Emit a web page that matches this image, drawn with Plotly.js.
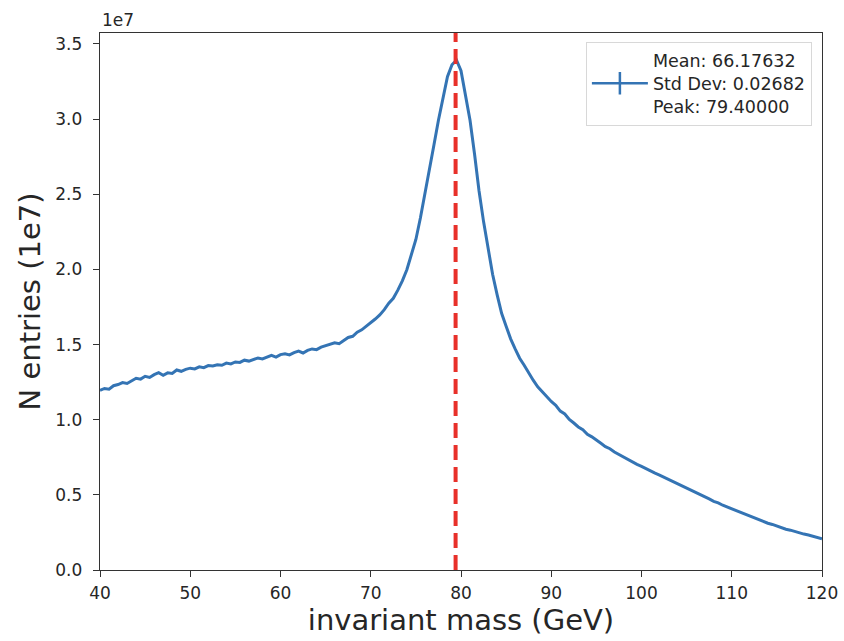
<!DOCTYPE html>
<html>
<head>
<meta charset="utf-8">
<script src="https://cdn.plot.ly/plotly-3.0.1.min.js"></script>
<style>html,body{margin:0;padding:0;background:#fff;}#chart{width:844px;height:641px;}</style>
</head>
<body>
<div id="chart"></div>
<script>
// invariant mass bin centres (GeV)
const mass = [
 40.0,40.5,41.0,41.5,42.0,42.5,43.0,43.5,44.0,44.5,45.0,45.5,46.0,46.5,47.0,47.5,48.0,48.5,49.0,49.5,
 50.0,50.5,51.0,51.5,52.0,52.5,53.0,53.5,54.0,54.5,55.0,55.5,56.0,56.5,57.0,57.5,58.0,58.5,59.0,59.5,
 60.0,60.5,61.0,61.5,62.0,62.5,63.0,63.5,64.0,64.5,65.0,65.5,66.0,66.5,67.0,67.5,68.0,68.5,69.0,69.5,
 70.0,70.5,71.0,71.5,72.0,72.5,73.0,73.5,74.0,74.5,75.0,75.5,76.0,76.5,77.0,77.5,78.0,78.5,79.0,79.5,
 80.0,80.5,81.0,81.5,82.0,82.5,83.0,83.5,84.0,84.5,85.0,85.5,86.0,86.5,87.0,87.5,88.0,88.5,89.0,89.5,
 90.0,90.5,91.0,91.5,92.0,92.5,93.0,93.5,94.0,94.5,95.0,95.5,96.0,96.5,97.0,97.5,98.0,98.5,99.0,99.5,
 100.0,100.5,101.0,101.5,102.0,102.5,103.0,103.5,104.0,104.5,105.0,105.5,106.0,106.5,107.0,107.5,108.0,108.5,109.0,109.5,
 110.0,110.5,111.0,111.5,112.0,112.5,113.0,113.5,114.0,114.5,115.0,115.5,116.0,116.5,117.0,117.5,118.0,118.5,119.0,119.5,
 120.0
];
// N entries in units of 1e7
const entries = [
 1.196,1.208,1.203,1.226,1.234,1.247,1.241,1.258,1.276,1.270,1.289,1.281,1.300,1.313,1.296,1.312,1.308,1.331,1.322,1.335,
 1.343,1.338,1.352,1.346,1.360,1.357,1.366,1.362,1.377,1.371,1.384,1.381,1.396,1.390,1.399,1.411,1.404,1.416,1.428,1.416,
 1.433,1.439,1.431,1.446,1.456,1.444,1.461,1.471,1.466,1.483,1.492,1.500,1.512,1.506,1.529,1.547,1.555,1.582,1.598,1.620,
 1.642,1.670,1.697,1.732,1.775,1.808,1.862,1.924,1.998,2.092,2.199,2.342,2.497,2.662,2.828,2.993,3.150,3.282,3.362,3.392,
 3.322,3.168,2.992,2.768,2.522,2.318,2.132,1.968,1.832,1.708,1.622,1.538,1.471,1.409,1.362,1.308,1.263,1.219,1.186,1.149,
 1.121,1.096,1.057,1.038,1.002,0.978,0.952,0.933,0.903,0.886,0.862,0.843,0.821,0.807,0.785,0.768,0.751,0.737,0.719,0.703,
 0.690,0.673,0.659,0.644,0.631,0.617,0.603,0.589,0.574,0.561,0.545,0.531,0.515,0.503,0.487,0.473,0.457,0.447,0.431,0.419,
 0.403,0.393,0.379,0.369,0.355,0.345,0.331,0.323,0.311,0.303,0.291,0.283,0.271,0.265,0.255,0.249,0.239,0.233,0.223,0.217,
 0.208
];
const legendLines = ["Mean: 66.17632", "Std Dev: 0.02682", "Peak: 79.40000"];
const peakMass = 79.4;
const xTicks = [40,50,60,70,80,90,100,110,120];
const yTicks = [0,0.5,1.0,1.5,2.0,2.5,3.0,3.5];

const font = "DejaVu Sans, sans-serif";
const blue = "#3474b4";
const dataTrace = {
  x: mass, y: entries, type: "scatter", mode: "lines", showlegend: false,
  line: {color: blue, width: 3}
};
// legend-only entry (errorbar style: line with vertical cap)
const legendTrace = {
  x: [null], y: [null], type: "scatter", mode: "lines+markers",
  name: legendLines.join("<br>"),
  line: {color: blue, width: 2.5},
  marker: {symbol: "line-ns-open", size: 18, color: blue, line: {color: blue, width: 2.5}}
};
const layout = {
  width: 844, height: 641,
  margin: {l: 100, r: 22, t: 33, b: 71},
  paper_bgcolor: "#fff", plot_bgcolor: "#fff",
  font: {family: font, color: "#262626", size: 17},
  showlegend: true,
  legend: {
    x: 0.986, y: 0.984, xanchor: "right", yanchor: "top",
    bgcolor: "rgba(255,255,255,0.9)", bordercolor: "#d8d8d8", borderwidth: 1,
    itemwidth: 56,
    font: {family: font, size: 17.5, color: "#262626"}
  },
  xaxis: {
    range: [40, 120], tickvals: xTicks, ticks: "outside", ticklen: 6, tickcolor: "#333",
    ticklabelstandoff: 1,
    showline: true, linecolor: "#333", linewidth: 1.3, mirror: true, showgrid: false, zeroline: false,
    tickfont: {family: font, size: 17, color: "#262626"},
    title: {text: "invariant mass (GeV)", font: {family: font, size: 29, color: "#262626"}, standoff: 8}
  },
  yaxis: {
    range: [0, 3.573], tickvals: yTicks, tickformat: ".1f", ticks: "outside", ticklen: 6, tickcolor: "#333",
    ticklabelstandoff: 7,
    showline: true, linecolor: "#333", linewidth: 1.3, mirror: true, showgrid: false, zeroline: false,
    tickfont: {family: font, size: 17, color: "#262626"},
    title: {text: "N entries (1e7)", font: {family: font, size: 29, color: "#262626"}, standoff: 6}
  },
  shapes: [{
    type: "line", xref: "x", yref: "paper", x0: peakMass, x1: peakMass, y0: 0, y1: 1,
    line: {color: "#e8302a", width: 4, dash: "15px,7px"}
  }],
  annotations: [{
    xref: "paper", yref: "paper", x: 0, y: 1, xanchor: "left", yanchor: "bottom", yshift: 1,
    text: "1e7", showarrow: false, font: {family: font, size: 17, color: "#262626"}
  }]
};
Plotly.newPlot("chart", [dataTrace, legendTrace], layout, {displayModeBar: false, staticPlot: true});
</script>
</body>
</html>
